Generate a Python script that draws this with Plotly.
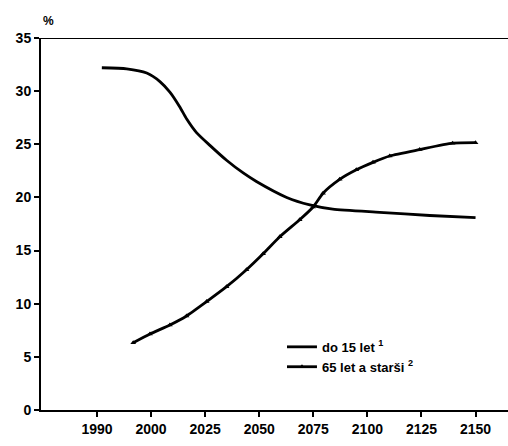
import numpy as np
import plotly.graph_objects as go

# Tick labels (equally spaced on the axis even though not equal in years)
tick_years = [1990, 2000, 2025, 2050, 2075, 2100, 2125, 2150]

# Share of population under 15 (%)
years_u15 = [1990.9, 1995.5, 1999.2, 2004.1, 2008.7, 2013.3, 2016.4, 2021.0, 2027.2,
             2034.9, 2042.6, 2048.7, 2062.7, 2073.4, 2084.0, 2105.7, 2128.8, 2150.9]
vals_u15 = [32.2, 32.1, 31.7, 30.9, 29.9, 28.5, 27.4, 26.1, 24.9,
            23.5, 22.3, 21.5, 20.0, 19.3, 18.9, 18.6, 18.3, 18.1]

# Share of population 65 and older (%)
years_65 = [1996.7, 1999.8, 2008.7, 2016.4, 2025.7, 2034.9, 2044.1, 2051.8, 2059.5,
            2068.7, 2074.9, 2079.5, 2087.2, 2094.9, 2102.6, 2110.3, 2124.2, 2139.4, 2152.3]
vals_65 = [6.33, 7.15, 8.0, 8.85, 10.2, 11.6, 13.2, 14.7, 16.3,
           17.9, 19.1, 20.4, 21.7, 22.6, 23.3, 23.9, 24.5, 25.1, 25.15]

names = ["do 15 let <sup>1</sup>", "65 let a starši <sup>2</sup>"]

tick_pos = list(range(len(tick_years)))


def to_axis(years):
    return np.interp(years, tick_years, tick_pos)


FONT = "Liberation Sans, Arial, Helvetica, sans-serif"

fig = go.Figure()
fig.add_trace(go.Scatter(
    x=to_axis(years_u15), y=vals_u15, mode="lines", name=names[0],
    line=dict(color="black", width=2.8, shape="spline", smoothing=0.6),
))
fig.add_trace(go.Scatter(
    x=to_axis(years_65), y=vals_65, mode="lines+markers", name=names[1],
    line=dict(color="black", width=2.8, shape="spline", smoothing=0.6),
    marker=dict(symbol="triangle-up", size=5, color="black"),
))

fig.update_layout(
    width=508, height=446,
    margin=dict(l=41, r=0, t=38, b=36),
    paper_bgcolor="white", plot_bgcolor="white",
    font=dict(family=FONT, size=14, color="black", weight="bold"),
    showlegend=True,
    legend=dict(x=0.516, y=0.21, xanchor="left", yanchor="top",
                bgcolor="rgba(0,0,0,0)", font=dict(size=13, weight="bold"),
                tracegroupgap=0),
    xaxis=dict(
        range=[-1.035, 7.6], tickvals=tick_pos, ticktext=[str(y) for y in tick_years],
        showgrid=False, zeroline=False, showline=True, linecolor="black", linewidth=2,
        ticks="outside", ticklen=5, tickwidth=1.5, tickcolor="black",
        tickfont=dict(size=14, weight="bold"),
    ),
    yaxis=dict(
        range=[0, 35], tickvals=[0, 5, 10, 15, 20, 25, 30, 35],
        showgrid=False, zeroline=False, showline=True, linecolor="black", linewidth=2,
        ticks="outside", ticklen=5, tickwidth=1.5, tickcolor="black",
        tickfont=dict(size=14, weight="bold"),
    ),
    shapes=[dict(type="line", xref="paper", yref="y", x0=0, x1=1, y0=35, y1=35,
                 line=dict(color="black", width=2))],
    annotations=[dict(text="%", xref="paper", yref="paper", x=0, y=1, xanchor="left",
                      yanchor="bottom", yshift=8, showarrow=False,
                      font=dict(size=12, weight="bold"))],
)

fig.write_html("out.html")
